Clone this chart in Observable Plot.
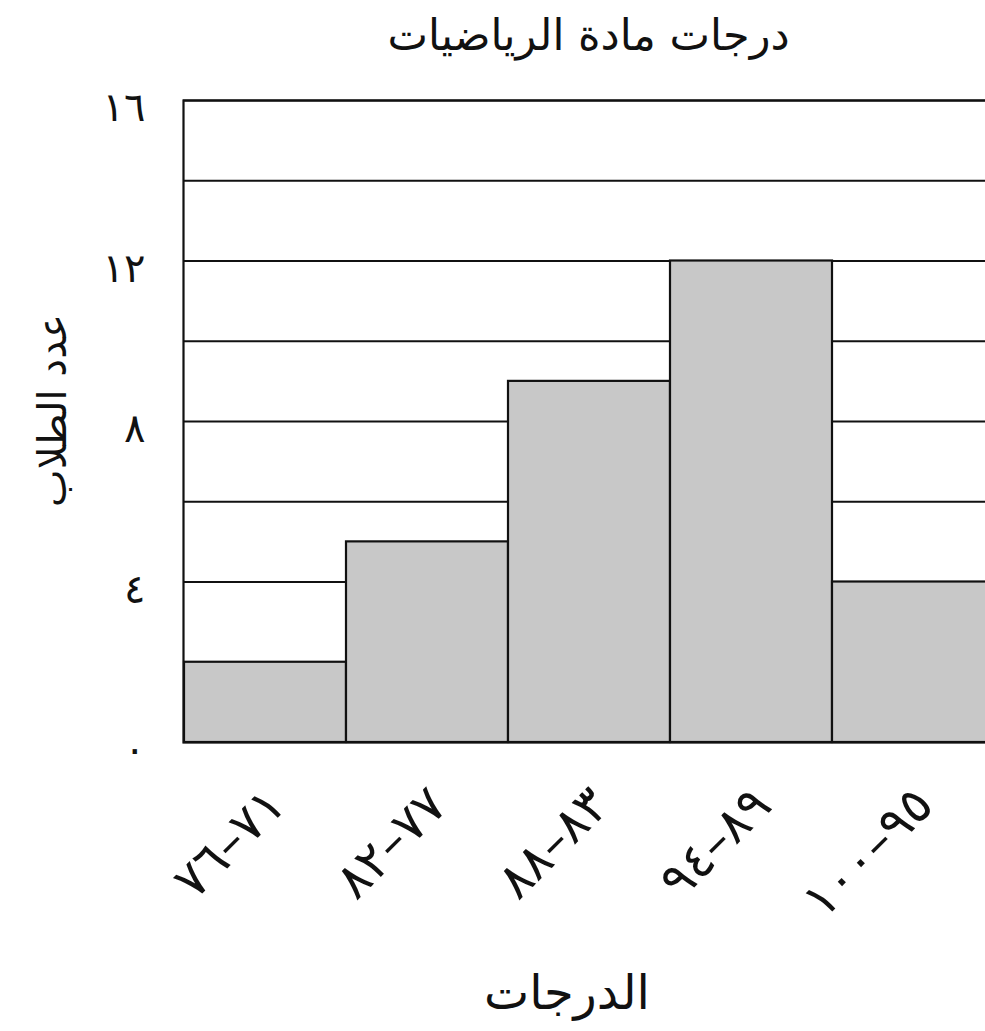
<!DOCTYPE html>
<html>
<head>
<meta charset="utf-8">
<script src="https://cdn.jsdelivr.net/npm/d3@7"></script>
<script src="https://cdn.jsdelivr.net/npm/@observablehq/plot@0.6"></script>
<style>
  html, body { margin: 0; padding: 0; background: #fff; }
  #wrap { position: relative; width: 985px; height: 1031px; overflow: hidden; }
  #title { position: absolute; left: 183px; top: 0; width: 811px; height: 70px; line-height: 70px; text-align: center;
           font-family: "DejaVu Sans", sans-serif; font-size: 43px; color: #111; direction: rtl; }
  #chart { position: absolute; left: 0; top: 70px; width: 985px; }
</style>
</head>
<body>
<div id="wrap">
<div id="title">درجات مادة الرياضيات</div>
<div id="chart"></div>
</div>
<script>
const categories = ["٧١–٧٦", "٧٧–٨٢", "٨٣–٨٨", "٨٩–٩٤", "٩٥–١٠٠"];
const counts = [2, 5, 9, 12, 4];
const yTicks = [0, 4, 8, 12, 16];
const yTickLabels = ["٠", "٤", "٨", "١٢", "١٦"];
const gridValues = [2, 4, 6, 8, 10, 12, 14, 16];
const xTitle = "الدرجات";
const yTitle = "عدد الطلاب";

const data = categories.map((c, i) => ({cat: c, n: counts[i]}));
const font = "DejaVu Sans, sans-serif";

const plot = Plot.plot({
  width: 985,
  height: 961,
  marginLeft: 183,
  marginRight: -9,
  marginTop: 30,
  marginBottom: 289,
  style: {fontFamily: font, background: "transparent", color: "#111", overflow: "hidden"},
  x: {domain: categories, padding: 0, axis: null},
  y: {domain: [0, 16], axis: null},
  marks: [
    Plot.ruleY(gridValues, {stroke: "#111", strokeWidth: 2.2}),
    Plot.barY(data, {x: "cat", y: "n", fill: "#c8c8c8", stroke: "#111", strokeWidth: 2.2}),
    Plot.frame({stroke: "#111", strokeWidth: 2.2}),
    Plot.text(yTicks, {x: null, y: d => d, text: (d, i) => yTickLabels[i], frameAnchor: "left",
      textAnchor: "end", dx: -38, dy: 8, fontSize: 40, fill: "#111"}),
    Plot.text(categories, {x: d => d, text: d => d, frameAnchor: "bottom", rotate: -45,
      textAnchor: "end", lineAnchor: "middle", dx: 11, dy: 54, fontSize: 50, fill: "#111"}),
    Plot.text([xTitle], {text: d => d, frameAnchor: "bottom", textAnchor: "middle", dx: -22, dy: 266, fontSize: 48, fill: "#111"}),
    Plot.text([yTitle], {text: d => d, frameAnchor: "left", textAnchor: "middle", rotate: -90, dx: -130, dy: -11, fontSize: 40, fill: "#111"})
  ]
});
document.getElementById("chart").appendChild(plot);
</script>
</body>
</html>
